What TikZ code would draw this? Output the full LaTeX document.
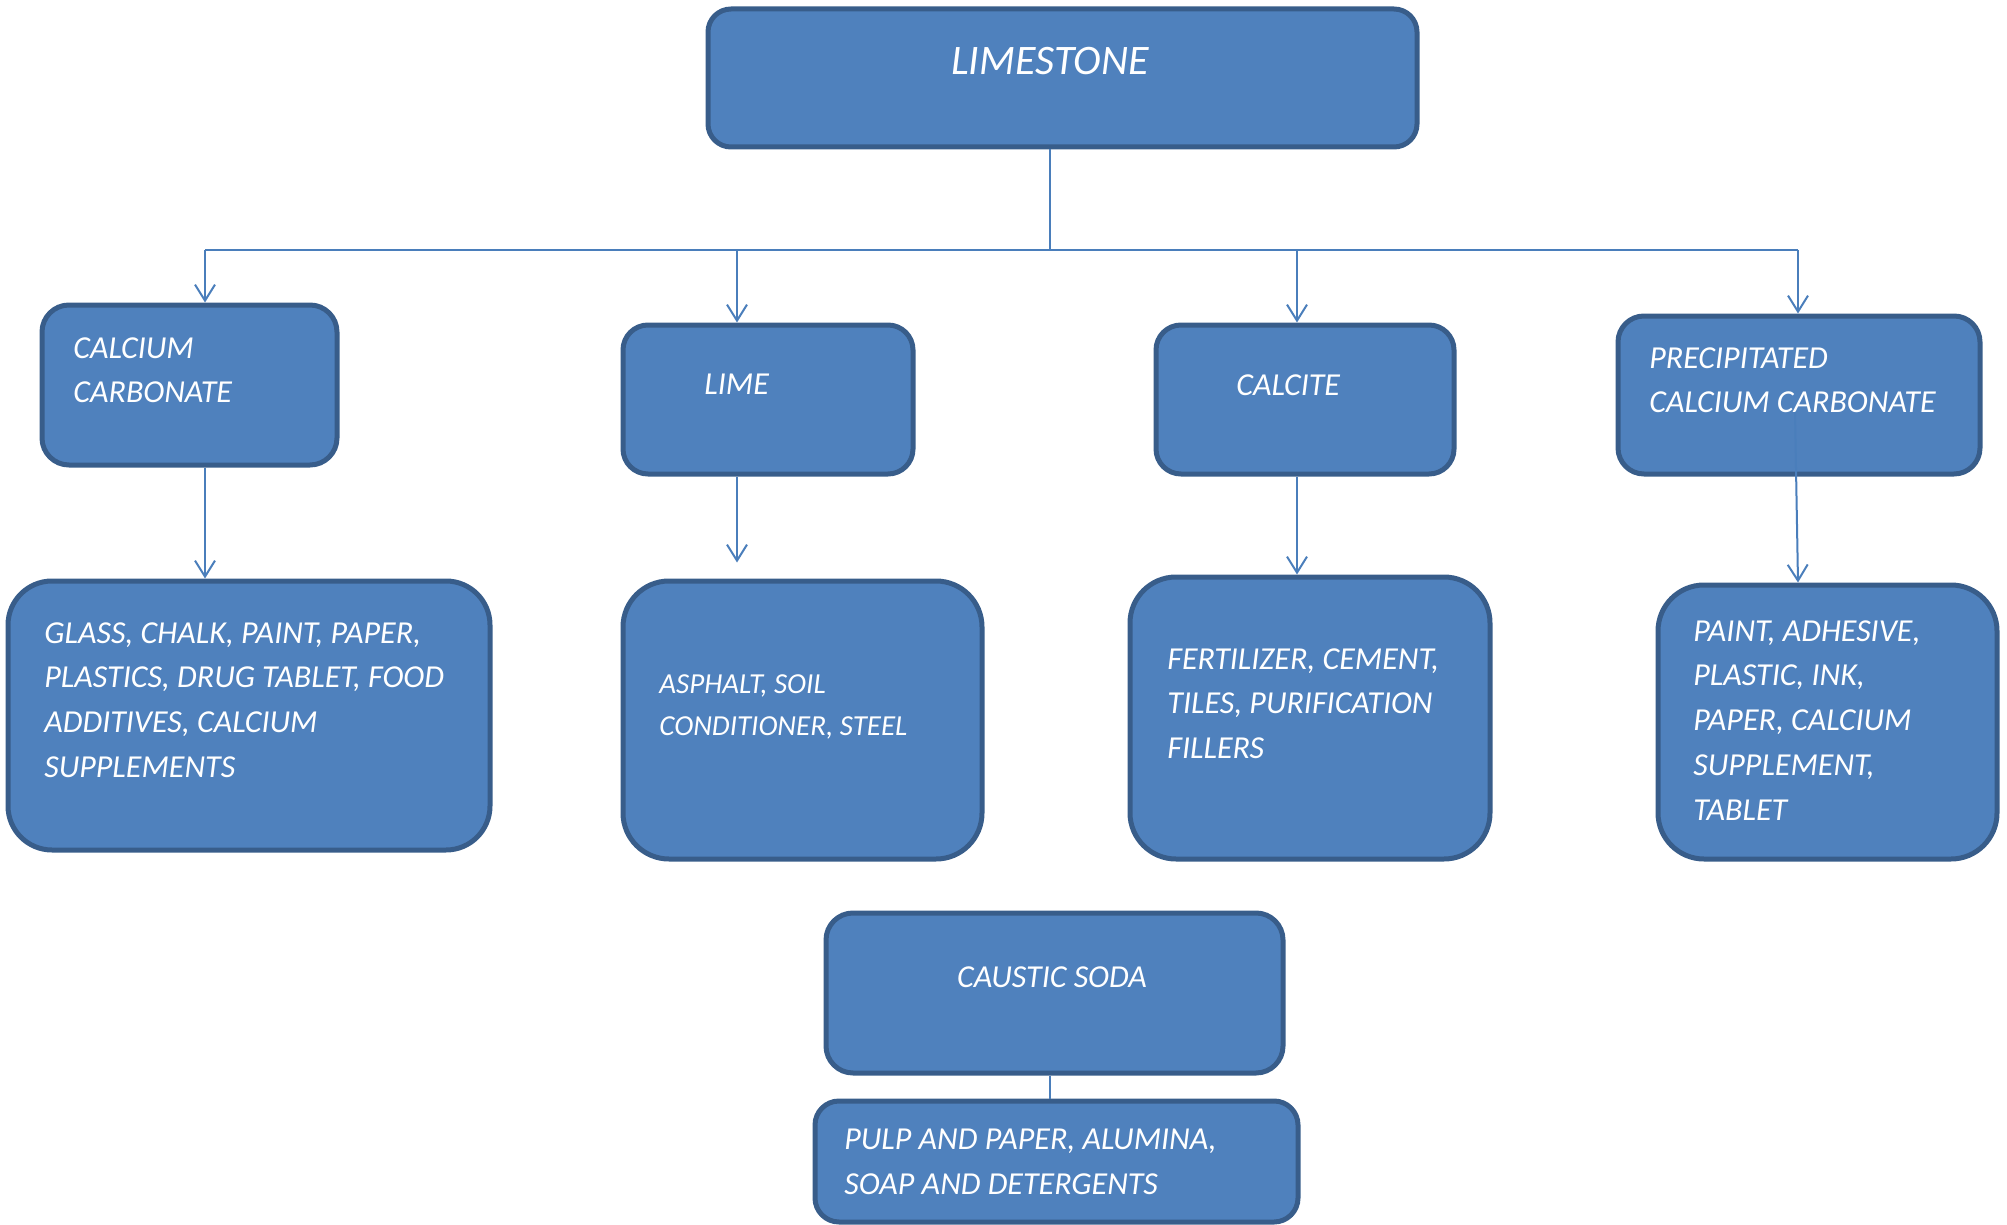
\documentclass[tikz,border=0pt]{standalone}
\usepackage{fontspec}
\setmainfont{Carlito}
\usetikzlibrary{arrows.meta,fit,calc}
\definecolor{boxfill}{HTML}{4F81BD}
\definecolor{boxline}{HTML}{385D8A}
\definecolor{conn}{HTML}{4A7EBB}
\begin{document}
\begin{tikzpicture}[x=0.5pt,y=-0.5pt,
  box/.style={draw=boxline, line width=2.5pt, fill=boxfill, inner sep=0pt, rectangle, rounded corners=#1},
  box/.default=13pt,
  txt/.style={text=white, font=\fontsize{16}{22.4}\selectfont\itshape, inner sep=0pt, align=left, anchor=north west},
  smalltxt/.style={txt, font=\fontsize{14.5}{21}\selectfont\itshape},
  bigtxt/.style={txt, font=\fontsize{21}{25}\selectfont\itshape, anchor=base},
  link/.style={draw=conn, line width=1pt},
  arr/.style={link, -{Straight Barb[length=8pt,width=10pt,line width=1pt]}}
]
\useasboundingbox (0,0) rectangle (2007,1225);

% top
\node[box=11.5pt, fit={(708,9) (1417,147)}] (lst) {};
\node[bigtxt] (lst-t) at (1050,75) {LIMESTONE};

% second row
\node[box=13.5pt, fit={(42,305) (337,465)}] (cc) {};
\node[txt] (cc-t) at (73,337) {CALCIUM\\CARBONATE};
\node[box=12.5pt, fit={(623,325) (913,474)}] (lime) {};
\node[txt] (lime-t) at (704,374) {LIME};
\node[box=12.5pt, fit={(1156,325) (1454,474)}] (calcite) {};
\node[txt] (calcite-t) at (1236,374) {CALCITE};
\node[box=13pt, fit={(1618,316) (1980,474)}] (pcc) {};
\node[txt] (pcc-t) at (1649,347) {PRECIPITATED\\CALCIUM CARBONATE};

% third row
\node[box=22pt, fit={(8,581) (490,850)}] (b1) {};
\node[txt] (b1-t) at (44,622) {GLASS, CHALK, PAINT, PAPER,\\PLASTICS, DRUG TABLET, FOOD\\ADDITIVES, CALCIUM\\SUPPLEMENTS};
\node[box=23pt, fit={(623,581) (982,859)}] (b2) {};
\node[smalltxt] (b2-t) at (659,674) {ASPHALT, SOIL\\CONDITIONER, STEEL};
\node[box=23pt, fit={(1130,577) (1490,859)}] (b3) {};
\node[txt] (b3-t) at (1167,648) {FERTILIZER, CEMENT,\\TILES, PURIFICATION\\FILLERS};
\node[box=23pt, fit={(1658,585) (1997,859)}] (b4) {};
\node[txt] (b4-t) at (1693,620) {PAINT, ADHESIVE,\\PLASTIC, INK,\\PAPER, CALCIUM\\SUPPLEMENT,\\TABLET};

% caustic soda
\node[box=13.5pt, fit={(826,913) (1283,1073)}] (cs) {};
\node[txt, anchor=base] (cs-t) at (1052,987) {CAUSTIC SODA};
\node[box=12pt, fit={(815,1101) (1298,1222)}] (pulp) {};
\node[txt] (pulp-t) at (844,1129) {PULP AND PAPER, ALUMINA,\\SOAP AND DETERGENTS};

% connectors
\coordinate (bus) at (1050,250);
\coordinate (busL) at (205,250);
\coordinate (busR) at (1798,250);
\coordinate (j2) at (737,250);
\coordinate (j3) at (1297,250);
\coordinate (pccin) at (1795,412);
\draw[link] (bus |- lst.south) -- (bus);
\draw[link] (busL) -- (busR);
\draw[arr] (busL) -- (busL |- cc.north);
\draw[arr] (j2) -- (j2 |- lime.north);
\draw[arr] (j3) -- (j3 |- calcite.north);
\draw[arr] (busR) -- (busR |- pcc.north);
\draw[arr] (busL |- cc.south) -- (busL |- b1.north);
\draw[arr, shorten >=8pt] (j2 |- lime.south) -- (j2 |- b2.north);
\draw[arr] (j3 |- calcite.south) -- (j3 |- b3.north);
\draw[arr] (pccin) -- (busR |- b4.north);
\draw[link] (bus |- cs.south) -- (bus |- pulp.north);
\end{tikzpicture}
\end{document}
